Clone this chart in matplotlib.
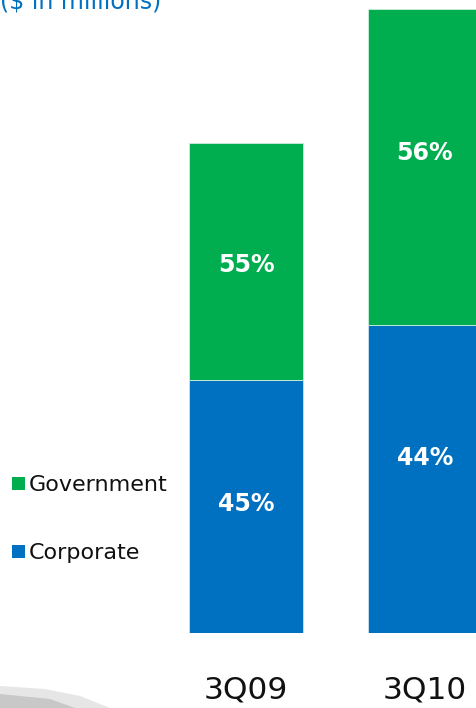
import matplotlib.pyplot as plt
from matplotlib.patches import Polygon

quarters = ['3Q09', '3Q10']
# segment heights (relative units)
corporate = [253, 308]
government = [237, 316]
corp_labels = ['45%', '44%']
gov_labels = ['55%', '56%']
# where each label sits inside its segment (fraction from the segment bottom)
corp_pos = [0.51, 0.57]
gov_pos = [0.485, 0.545]

blue = '#0070C0'
green = '#00AE4F'

W, H = 477, 708
fig = plt.figure(figsize=(W / 100, H / 100), dpi=100)

# faint background swoosh, bottom left
bg = fig.add_axes([0, 0, 1, 1], zorder=0)
bg.set_xlim(0, W)
bg.set_ylim(H, 0)
bg.axis('off')
bg.add_patch(Polygon([(0, 686), (45, 689), (80, 696), (110, 708), (0, 708)],
                     closed=True, color='#e6e6e6', lw=0))
bg.add_patch(Polygon([(0, 694), (50, 699), (75, 708), (0, 708)],
                     closed=True, color='#c8c8c8', lw=0))

# bar axes: bottom of bars at y=633 px, top of figure at 0
bottom_px = 633.3
ax = fig.add_axes([0, (H - bottom_px) / H, 1, bottom_px / H], zorder=1)
ax.patch.set_alpha(0)
step = 179.0
x0 = 246.0
ax.set_xlim(-x0 / step, (W - x0) / step)
ax.set_ylim(0, bottom_px)
width = 114 / step
xs = range(len(quarters))

ax.bar(xs, corporate, width, color=blue, edgecolor='#cfe3f3', linewidth=0.6)
ax.bar(xs, government, width, bottom=corporate, color=green,
       edgecolor='#cfeedd', linewidth=0.6)

for i in xs:
    ax.text(i, corporate[i] * corp_pos[i], corp_labels[i], color='white',
            fontsize=17, fontweight='bold', ha='center', va='center')
    ax.text(i, corporate[i] + government[i] * gov_pos[i], gov_labels[i],
            color='white', fontsize=17, fontweight='bold',
            ha='center', va='center')
ax.axis('off')

# category labels under the bars
for i, q in enumerate(quarters):
    fig.text((x0 + i * step) / W, 1 - 690 / H, q, fontsize=22.5,
             ha='center', va='center', color='#111111')

# legend
for label, col, y in [('Government', green, 484), ('Corporate', blue, 552)]:
    bg.add_patch(plt.Rectangle((12, y - 7), 13, 13, color=col, lw=0))
    bg.text(29, y + 1, label, fontsize=16, va='center', ha='left',
            color='#111111')

# title, cut at the top edge
fig.text(0.0, 1 - 9 / H, '($ in millions)', fontsize=17, color=blue,
         ha='left', va='baseline')

fig.savefig('out.png', dpi=100)
